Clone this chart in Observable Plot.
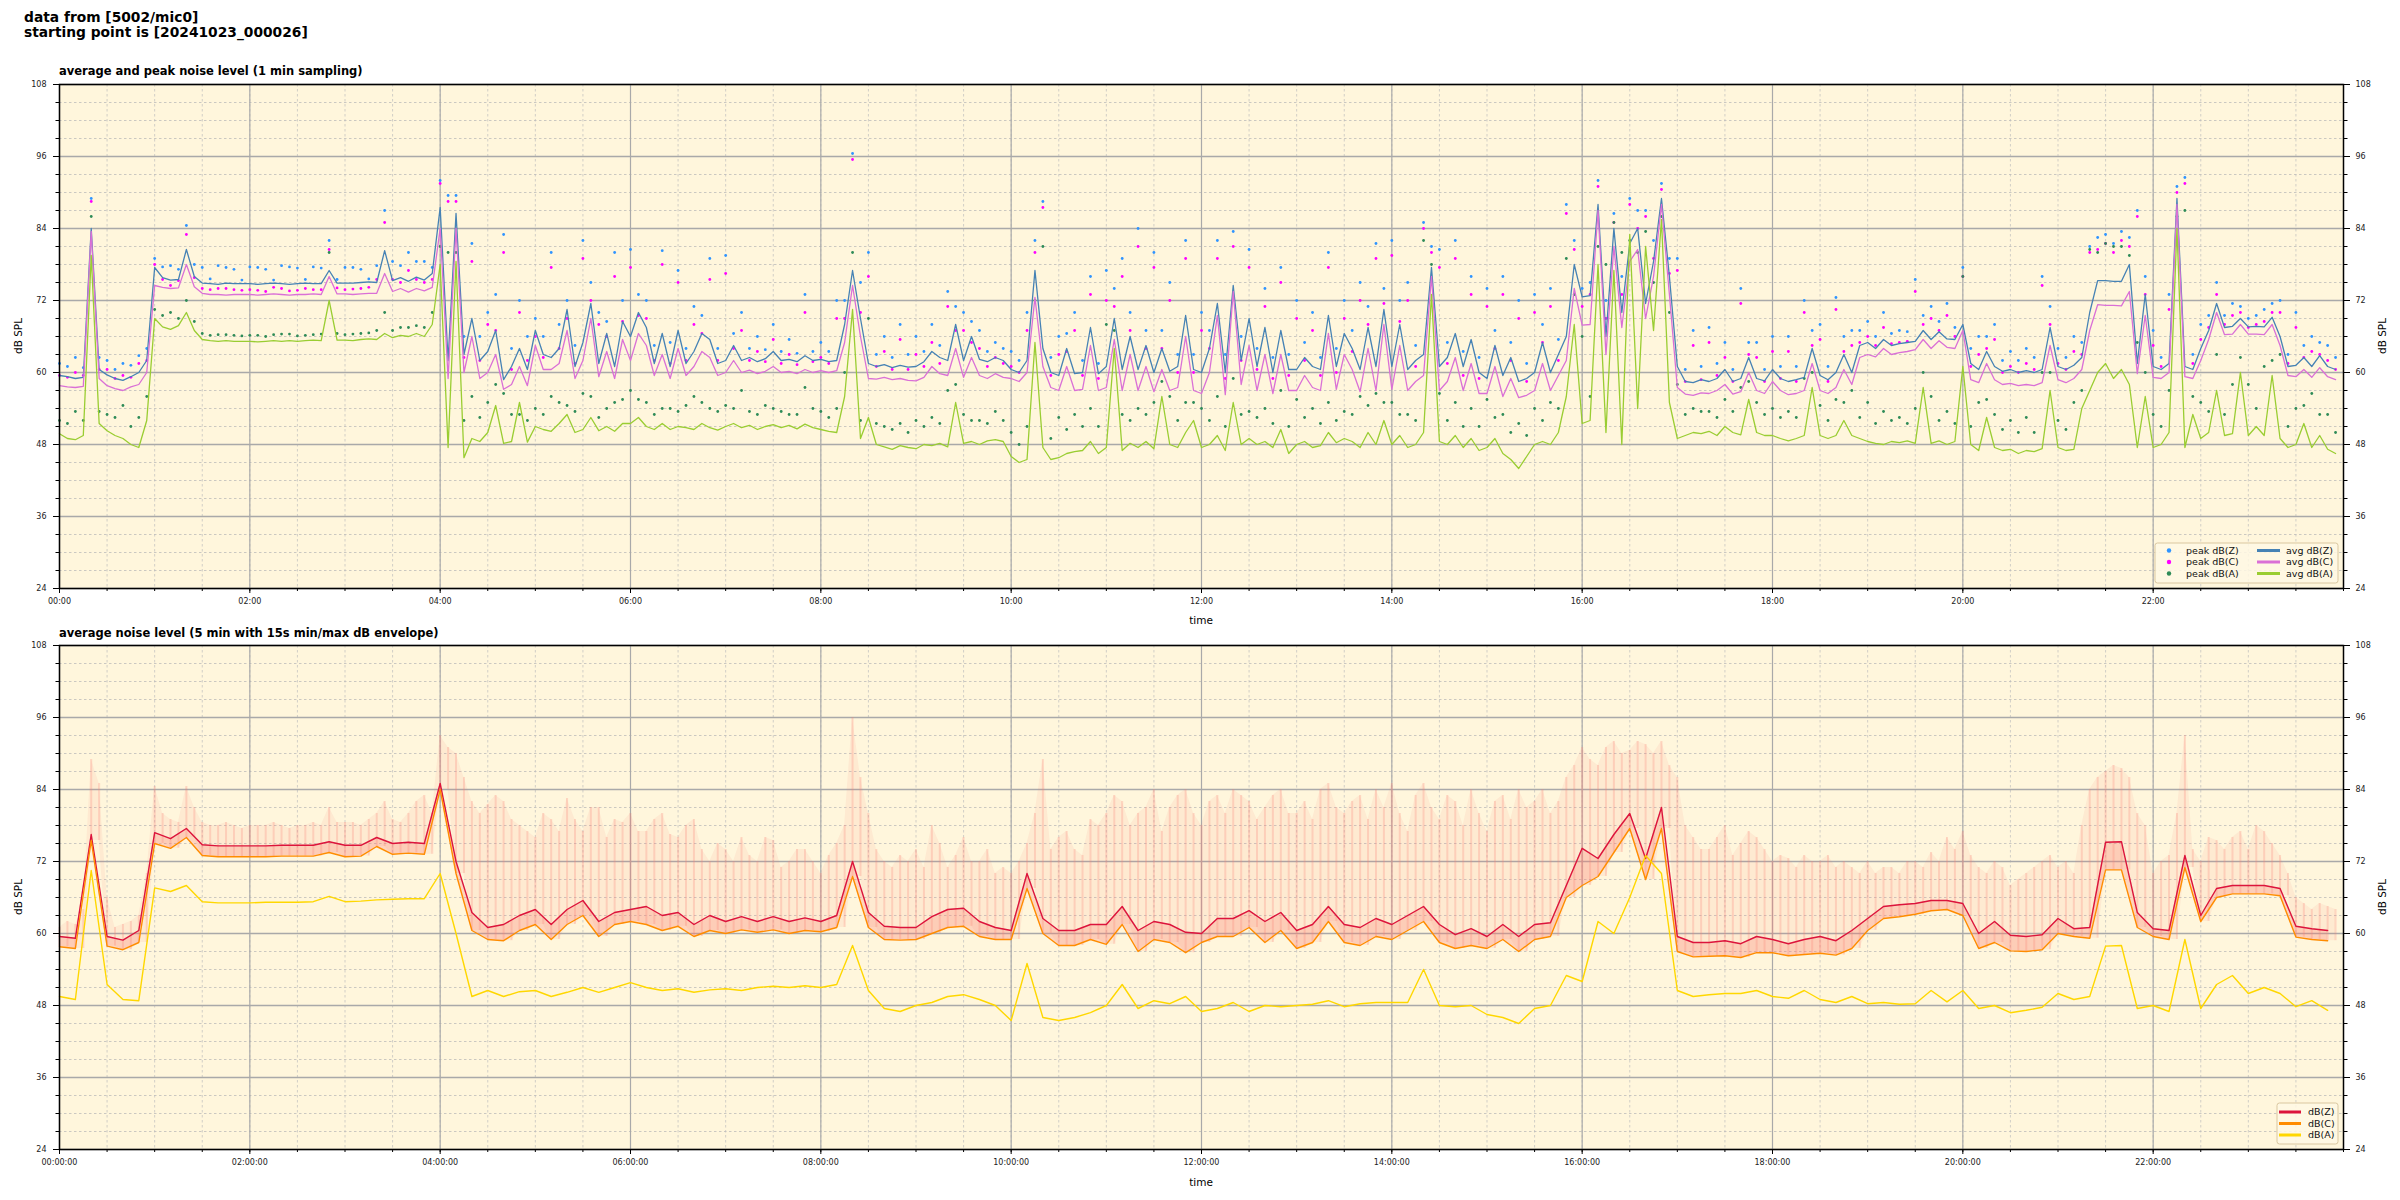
<!DOCTYPE html>
<html><head><meta charset="utf-8">
<script src="https://cdn.jsdelivr.net/npm/d3@7"></script>
<script src="https://cdn.jsdelivr.net/npm/@observablehq/plot@0.6"></script>
<style>
html,body{margin:0;padding:0;background:#fff;}
#root{position:relative;width:2400px;height:1200px;font-family:"DejaVu Sans",sans-serif;color:#000;overflow:hidden;}
.abs{position:absolute;white-space:nowrap;}
.title{left:24px;top:10px;font-weight:bold;font-size:13.8px;line-height:15px;}
.sub{left:59px;font-weight:bold;font-size:11.5px;line-height:13px;}
.axl{font-size:10.5px;line-height:12px;transform:translate(-50%,-50%);}
.ylab{font-size:10.5px;line-height:12px;transform:translate(-50%,-50%) rotate(-90deg);}
</style></head>
<body><div id="root"></div>
<script>
// ---------- DATA ----------
// time axis ticks
const majorHours = [0,2,4,6,8,10,12,14,16,18,20,22];
const minorHours = d3.range(0, 24.01, 0.5);
const majorDb = [24,36,48,60,72,84,96,108];
const minorDb = d3.range(24, 108.01, 3);

// top panel: 1 min sampling, read at 5 min steps (12 per hour), averages
const avgZ = [
59.5,59.3,59.0,59.2,84.0,60.5,59.6,59.0,58.7,59.3,60.0,62.0,
77.5,75.8,75.4,75.5,80.5,76.0,74.9,74.8,74.7,74.9,74.8,74.8,
74.8,74.7,74.8,74.9,74.8,74.7,74.8,74.9,74.8,74.8,77.0,74.9,
74.9,74.9,75.0,75.1,75.0,80.3,75.3,75.8,75.2,75.9,75.4,76.5,
87.5,62.0,86.5,63.0,69.0,62.0,63.5,67.0,58.8,61.0,64.0,60.5,
67.0,63.0,62.5,64.0,70.5,61.0,65.0,71.5,61.5,66.5,61.0,68.5,
66.0,70.0,67.5,61.5,66.5,61.0,67.0,61.5,63.5,66.5,65.5,61.5,
62.0,64.5,62.0,62.5,61.8,62.3,63.5,62.0,62.2,61.8,62.8,62.0,
62.2,61.8,62.0,68.0,77.0,69.0,61.5,61.0,61.3,60.8,61.2,60.9,
61.0,61.8,63.5,62.5,62.0,68.0,62.0,66.0,62.2,61.8,62.5,62.0,
60.5,60.0,62.0,77.0,64.0,60.0,59.5,64.0,59.8,60.0,67.5,59.8,
61.0,69.0,60.5,66.0,60.5,64.5,60.0,64.0,60.2,61.0,69.5,60.5,
60.0,64.0,71.5,60.0,74.5,62.0,69.0,61.0,67.5,60.0,67.0,60.5,
60.5,62.5,61.0,60.5,69.5,61.0,66.5,64.0,60.5,67.5,61.0,70.5,
61.0,68.0,60.5,62.0,63.0,77.5,61.0,62.5,66.5,61.0,65.5,60.0,
59.0,64.5,59.5,62.5,58.5,59.0,60.0,65.0,60.0,63.0,66.0,78.0,
72.6,72.8,88.0,66.0,84.0,70.0,81.5,84.0,71.5,78.5,89.0,76.0,
61.0,58.5,58.3,58.8,58.5,59.0,60.5,58.5,59.0,62.5,59.0,58.6,
60.5,59.0,58.5,58.8,59.2,64.0,59.5,58.8,60.0,63.0,60.0,64.5,
65.0,64.0,65.5,64.5,64.8,65.0,65.2,67.0,65.5,66.8,65.6,65.5,
68.0,61.5,60.5,63.5,61.0,60.2,60.5,60.0,60.3,60.0,60.5,67.5,
61.0,60.5,61.2,62.5,70.0,75.3,75.3,75.2,75.2,78.0,61.5,73.0,
61.0,60.5,61.5,89.0,61.0,60.5,64.0,67.0,71.5,67.5,67.7,69.0,
67.6,67.7,67.6,69.2,66.0,61.0,61.2,62.5,61.0,62.8,61.0,60.5];
const avgC = [
57.8,57.6,57.5,57.7,83.5,59.0,57.8,57.3,57.0,57.6,58.0,60.0,
74.5,74.2,74.0,74.1,78.0,74.3,73.2,73.0,73.0,72.9,73.0,73.0,
73.0,72.9,73.0,73.1,73.0,72.9,73.0,73.0,73.1,73.0,76.0,73.1,
73.1,73.0,73.1,73.2,73.2,76.5,73.5,74.0,73.4,74.0,73.6,74.2,
84.0,59.0,84.0,60.0,66.0,59.0,60.0,63.0,57.2,58.0,61.0,57.8,
64.5,60.5,60.5,61.5,67.0,59.0,62.0,69.0,59.3,63.5,59.0,65.5,
62.0,66.5,64.5,59.5,63.0,59.0,64.0,59.5,61.0,63.5,62.5,59.5,
60.0,62.0,60.0,60.4,59.8,60.2,61.0,60.0,60.2,59.8,60.5,60.0,
60.3,60.0,60.3,65.0,74.5,66.0,59.0,58.9,59.2,58.8,59.0,58.7,
58.6,59.2,61.0,59.8,59.5,64.0,59.2,62.5,59.5,59.0,59.8,59.2,
59.0,58.5,60.0,72.5,61.0,57.5,57.0,61.0,57.0,57.2,64.5,57.0,
57.5,65.5,57.0,63.0,57.0,61.0,56.8,60.5,57.0,57.5,66.0,57.0,
56.5,60.0,69.5,56.3,73.5,58.0,64.5,57.0,63.0,56.5,63.0,57.0,
57.0,59.5,57.5,57.0,66.5,57.2,63.0,60.5,56.8,64.0,57.0,68.0,
57.2,64.5,57.0,58.5,59.5,76.0,57.0,58.5,62.5,57.0,61.5,56.5,
56.5,61.0,56.0,59.0,55.8,56.2,57.0,61.5,57.0,59.5,62.0,74.0,
67.9,68.0,87.0,63.0,81.0,67.5,78.5,80.5,69.0,76.0,88.0,73.0,
57.5,56.4,56.2,56.6,56.5,57.0,58.0,56.4,56.8,60.0,57.0,56.5,
58.5,57.0,56.3,56.5,57.0,61.5,57.0,56.5,57.5,60.5,58.0,62.5,
63.0,62.6,64.0,63.0,63.3,63.5,63.8,65.5,64.0,65.3,64.2,64.0,
67.0,58.8,58.3,61.5,58.8,58.0,58.2,57.8,58.0,57.8,58.3,64.5,
58.8,58.3,59.0,60.5,67.0,71.3,71.2,71.2,71.1,73.5,59.8,69.5,
59.2,59.0,60.0,88.0,59.3,59.0,62.0,65.5,70.0,66.3,66.4,68.0,
66.4,66.4,66.3,68.0,64.5,59.5,59.3,60.5,59.2,60.8,59.3,58.8];
const avgA = [
49.8,49.0,48.8,49.5,79.5,51.5,50.3,49.5,49.0,48.0,47.5,52.0,
69.0,67.6,67.2,67.8,70.0,67.0,65.5,65.3,65.2,65.3,65.2,65.2,
65.2,65.1,65.2,65.3,65.2,65.3,65.2,65.3,65.4,65.3,72.0,65.4,
65.4,65.3,65.5,65.6,65.5,66.5,65.8,66.2,66.0,66.5,66.0,68.0,
78.0,47.5,78.5,45.8,49.0,48.5,50.0,54.5,48.2,48.5,55.0,48.4,
51.0,50.5,50.2,51.5,53.0,50.0,50.5,52.5,50.3,51.0,50.2,51.5,
51.5,52.5,51.0,50.5,51.5,50.5,51.0,50.8,50.5,51.5,50.8,50.4,
51.0,51.5,50.8,51.2,50.5,51.0,51.3,50.8,51.2,50.6,51.4,50.8,
50.5,50.2,50.0,56.0,70.5,49.0,52.5,48.0,47.6,47.2,47.8,47.5,
47.3,48.0,47.8,48.2,47.6,55.0,48.2,48.5,48.0,48.6,48.8,48.5,
46.0,45.0,45.5,65.0,47.5,45.5,45.8,46.5,46.8,47.0,48.5,46.5,
47.5,64.0,47.0,48.2,47.5,48.5,47.3,56.0,48.0,47.5,50.0,52.0,
47.5,48.0,49.5,47.0,55.0,48.0,49.0,48.0,48.5,47.5,50.5,46.5,
48.0,48.5,47.5,47.8,50.0,48.3,49.0,48.5,47.5,50.0,48.0,52.0,
48.0,49.5,47.5,48.0,50.0,73.0,48.5,48.0,49.5,47.5,49.0,47.0,
47.5,49.0,46.5,45.5,44.0,46.0,48.0,48.5,48.0,50.0,56.0,68.0,
51.5,52.0,78.0,50.0,77.0,48.0,83.0,54.0,81.0,67.0,85.5,55.0,
49.0,49.5,50.0,49.8,50.2,49.5,51.0,50.0,49.6,55.5,50.0,49.5,
49.5,49.0,48.6,49.0,49.5,57.5,49.5,49.0,49.5,52.0,49.5,49.0,
48.5,48.2,48.0,48.5,48.3,48.6,48.2,57.5,48.2,48.6,48.0,48.5,
61.0,48.0,47.0,52.5,47.5,47.0,47.2,46.5,47.0,46.8,47.3,57.0,
47.5,47.0,47.2,54.0,57.0,60.0,61.5,59.0,60.5,58.0,47.5,56.0,
47.5,48.0,50.0,84.0,47.5,53.0,49.0,50.0,57.0,49.5,49.8,60.0,
49.5,51.0,49.5,59.5,49.0,47.5,48.0,51.5,47.5,49.5,47.2,46.5];

// top panel peaks, 5 min steps
const peakZ = [
61.5,61.0,62.5,60.8,89.0,62.5,62.0,60.5,61.5,61.2,62.8,64.0,
79.0,77.6,77.8,77.2,84.5,78.0,77.5,75.6,77.8,77.5,77.2,75.4,
77.6,77.5,77.2,75.4,77.8,77.6,77.4,75.5,77.6,77.4,82.0,75.5,
77.5,77.5,77.2,75.6,77.8,87.0,78.5,77.8,80.0,78.5,78.5,77.5,
92.0,89.5,89.5,66.0,81.5,66.0,70.0,73.0,83.0,64.0,72.0,66.0,
69.0,66.0,80.0,68.0,72.0,64.5,82.0,75.0,70.0,68.5,80.0,72.0,
80.5,73.0,72.0,64.5,80.3,65.0,77.0,64.0,71.0,69.5,79.0,64.0,
79.5,66.5,70.0,64.0,66.0,63.8,68.0,63.5,65.5,63.2,73.0,63.5,
65.0,63.5,72.0,72.0,96.5,75.0,80.0,63.0,66.0,62.5,68.0,63.0,
66.0,63.5,68.0,64.5,73.5,71.0,70.0,68.5,67.0,63.5,65.0,64.0,
63.5,62.0,70.0,82.0,88.5,62.5,66.0,66.5,70.0,62.0,76.0,61.5,
77.0,74.0,79.0,70.0,84.0,67.0,80.0,67.0,75.0,63.0,82.0,63.0,
70.0,67.0,82.0,63.0,83.5,66.0,80.5,64.0,74.0,62.5,77.5,63.0,
72.0,65.0,70.0,62.5,80.0,64.0,72.0,67.0,75.0,71.0,81.5,74.0,
82.0,72.0,75.0,64.5,85.0,81.0,80.5,65.0,82.0,63.5,76.0,62.5,
74.0,67.0,76.0,65.0,72.0,61.5,73.0,68.0,74.0,65.5,88.0,82.0,
74.0,75.0,92.0,72.0,86.5,76.0,89.0,87.0,87.0,82.0,91.5,79.0,
79.0,60.5,67.0,61.0,67.5,61.5,65.0,60.5,74.0,65.0,65.0,60.5,
66.0,61.0,66.0,61.0,72.0,67.0,68.0,61.0,72.5,66.0,67.0,67.0,
68.5,66.0,70.0,66.5,67.0,66.8,75.5,69.5,71.0,68.5,71.5,67.5,
77.5,64.0,66.0,66.0,68.0,62.0,63.5,62.0,64.0,62.5,76.0,71.0,
64.0,62.5,66.0,65.0,81.0,82.5,83.0,81.5,83.5,82.5,87.0,76.0,
67.0,62.5,73.0,91.0,92.5,63.0,68.0,69.5,75.0,69.5,71.5,71.0,
69.0,69.5,70.5,71.5,72.0,63.0,70.0,64.5,66.0,65.0,64.5,62.5];
const peakC = [
59.5,59.2,60.0,59.5,88.5,60.5,60.5,59.0,59.5,59.2,61.5,62.0,
78.0,75.5,74.5,75.3,83.0,75.8,74.0,73.8,74.0,74.0,73.8,73.7,
73.8,73.7,73.5,74.2,74.0,73.6,73.7,74.0,73.8,73.8,80.5,74.1,
73.8,73.9,74.0,74.2,75.5,85.0,75.5,75.0,77.0,75.5,75.0,75.5,
91.5,88.5,88.5,62.5,78.5,62.0,68.0,67.0,80.0,60.5,70.0,62.0,
66.0,62.5,77.5,64.0,69.0,61.5,79.0,72.0,68.0,66.0,76.0,68.5,
77.5,69.5,69.0,62.0,78.0,61.5,75.0,62.0,68.0,66.5,75.5,62.0,
76.5,64.0,67.0,62.0,63.5,61.8,65.5,61.5,63.0,61.3,70.0,61.8,
62.5,61.5,69.0,69.0,95.5,70.0,76.0,61.0,63.5,60.5,65.5,60.5,
63.0,61.0,65.0,61.5,71.0,67.0,67.0,65.0,64.0,61.0,62.5,61.5,
61.0,60.0,67.0,80.0,87.5,59.5,63.0,63.5,67.0,59.5,73.0,59.0,
72.0,71.0,76.0,67.0,81.0,64.0,77.5,64.0,72.0,60.0,79.0,60.0,
67.0,64.0,79.0,59.0,81.0,62.0,77.5,60.5,71.0,59.0,75.0,59.5,
69.0,62.0,67.0,59.5,77.5,60.0,69.0,63.5,72.0,68.0,79.0,71.5,
79.5,68.5,72.0,61.0,84.0,80.0,77.5,61.5,79.0,59.5,73.0,59.0,
71.0,64.0,73.0,62.0,69.0,58.5,70.0,65.0,71.0,62.0,86.5,80.5,
71.0,73.0,91.0,69.0,85.0,73.0,88.0,84.0,86.0,79.0,90.5,76.5,
77.0,58.5,64.5,58.8,65.0,59.5,62.5,58.5,71.5,63.0,62.5,58.5,
63.5,59.0,63.5,58.5,70.0,64.5,65.5,58.5,70.5,63.5,64.5,65.0,
66.0,64.5,67.5,64.8,65.0,65.2,73.5,68.0,69.0,67.0,69.5,66.0,
76.0,61.0,63.0,64.0,65.5,60.0,61.0,60.0,61.5,60.5,74.5,68.0,
61.5,60.5,63.5,63.0,80.0,80.5,81.5,80.0,82.0,81.0,86.0,73.0,
64.5,61.0,70.5,90.0,91.5,61.5,65.5,67.5,73.0,68.0,69.5,70.0,
67.5,68.0,68.5,70.0,70.0,61.5,67.5,62.5,63.5,63.0,62.0,60.5];
const peakA = [
52.0,51.5,53.5,52.0,86.0,53.5,53.0,52.5,54.5,51.0,52.5,56.0,
70.5,69.5,70.0,69.0,72.0,68.5,66.5,66.2,66.3,66.3,66.2,66.1,
66.2,66.2,66.0,66.3,66.4,66.4,66.1,66.2,66.3,66.4,80.0,66.5,
66.3,66.4,66.5,66.6,67.0,70.0,67.0,67.5,67.5,67.8,67.5,70.0,
81.0,80.0,80.0,52.0,56.0,52.5,55.0,58.0,56.5,53.0,53.0,52.0,
54.0,53.0,56.0,55.0,54.5,53.5,56.5,56.0,52.5,54.0,55.0,55.5,
57.0,55.5,55.0,53.0,54.0,54.0,53.5,54.5,56.0,55.0,54.0,53.5,
54.5,54.0,57.0,53.5,53.0,54.5,54.0,53.5,53.0,53.0,57.5,54.0,
53.5,52.5,54.0,60.0,80.0,52.0,69.0,51.5,51.0,50.5,51.5,50.0,
52.0,51.0,52.5,51.5,57.0,58.0,53.0,52.0,52.0,51.5,53.5,52.0,
50.0,48.0,51.0,72.0,81.0,49.0,52.5,50.5,53.0,51.0,54.0,51.0,
68.0,67.0,53.0,52.0,54.0,53.0,55.0,58.5,56.0,52.0,55.0,55.0,
54.0,52.0,56.0,51.0,59.0,53.0,53.5,52.5,54.0,51.5,57.0,51.0,
55.5,52.5,54.0,51.5,55.0,52.0,53.5,53.0,56.0,54.5,56.5,55.0,
55.0,53.0,53.0,52.0,82.0,78.0,56.5,52.0,55.0,51.0,54.0,51.0,
55.5,52.5,53.0,50.0,51.5,49.5,54.0,52.0,55.0,54.0,79.0,73.0,
66.0,56.0,81.0,78.0,85.0,80.0,82.0,80.0,83.5,75.0,86.0,70.0,
58.0,53.0,54.0,53.5,53.5,52.5,55.5,53.5,57.5,58.5,55.0,53.0,
54.0,52.5,53.5,52.5,59.0,60.0,54.5,52.0,55.5,55.0,57.0,52.5,
55.0,51.5,53.5,52.0,52.5,51.5,54.0,60.0,56.0,52.0,53.5,51.5,
76.0,51.0,55.0,55.5,53.0,50.5,52.0,50.0,52.5,50.0,60.0,60.0,
52.0,50.5,55.0,57.0,80.5,80.0,81.5,81.0,81.0,79.5,65.0,60.0,
53.0,51.0,57.0,86.0,87.0,56.0,55.0,53.5,63.0,53.0,58.0,62.5,
58.0,54.0,61.0,62.0,63.0,51.0,54.0,54.5,56.5,53.0,53.0,50.0];

// bottom panel: 5 min averages read at 10 min steps (6 per hour)
const lvlZ = [
59.5,59.2,76.5,59.5,58.9,60.5, 76.8,75.8,77.5,74.8,74.6,74.6,
74.6,74.6,74.7,74.7,74.7,75.3, 74.7,74.7,76.0,75.0,75.2,75.0,
85.0,72.0,63.5,61.0,61.5,63.0, 64.0,61.5,64.0,65.5,62.0,63.5,
64.0,64.5,63.0,63.5,61.5,63.0, 62.0,62.8,62.0,62.8,62.0,62.6,
62.0,63.0,72.0,63.5,61.2,61.0, 61.0,62.8,64.0,64.2,62.0,61.0,
60.5,70.0,62.5,60.5,60.5,61.5, 61.5,64.5,60.5,62.0,61.5,60.2,
60.0,62.5,62.5,63.8,62.0,63.5, 60.5,61.5,64.5,61.5,61.0,62.5,
61.5,63.0,64.5,61.5,59.8,60.8, 59.5,61.5,59.5,61.5,61.8,68.0,
74.2,72.5,76.5,80.0,72.5,81.0, 59.5,58.5,58.5,58.8,58.3,59.5,
59.0,58.3,59.0,59.5,58.8,60.5, 62.5,64.5,64.8,65.0,65.5,65.5,
65.0,60.0,62.0,59.7,59.5,59.8, 62.5,60.8,61.0,75.2,75.3,63.5,
60.8,60.5,73.0,63.0,67.5,68.0, 68.0,68.0,67.5,61.2,60.8,60.5];
const lvlC = [
57.8,57.5,75.5,57.9,57.3,58.5, 75.0,74.2,76.0,73.0,72.8,72.8,
72.8,72.8,72.9,72.9,72.9,73.5, 72.8,72.9,74.5,73.2,73.4,73.2,
84.0,70.0,60.5,59.0,58.8,60.5, 61.5,59.0,61.5,63.0,59.5,61.5,
62.0,61.5,60.5,61.2,59.5,60.5, 60.0,60.6,60.2,60.6,60.0,60.5,
60.3,61.0,69.5,61.0,59.0,58.9, 59.0,60.0,61.0,61.2,59.5,59.0,
59.0,67.5,60.0,58.0,58.0,59.0, 58.2,61.5,57.0,59.0,58.5,56.8,
58.5,59.5,59.5,61.0,58.5,60.5, 57.5,58.5,62.0,58.5,58.0,59.5,
59.0,60.5,62.0,58.5,57.5,58.0, 57.5,59.0,57.0,59.0,59.5,66.0,
68.0,69.5,73.5,77.5,69.0,77.5, 57.0,56.1,56.2,56.3,56.0,56.8,
56.8,56.3,56.5,56.7,56.4,57.5, 60.5,62.5,62.8,63.2,63.8,64.0,
63.0,57.5,58.5,57.1,57.0,57.3, 60.0,59.5,59.2,70.6,70.6,61.0,
59.5,59.0,71.0,62.0,66.0,66.6, 66.6,66.6,66.3,59.4,59.0,58.8];
const lvlA = [
49.5,49.0,70.5,51.5,49.0,48.8, 67.6,67.0,68.0,65.3,65.1,65.1,
65.1,65.2,65.2,65.2,65.3,66.2, 65.3,65.4,65.6,65.7,65.8,65.8,
70.0,60.0,49.5,50.5,49.5,50.3, 50.5,49.5,50.2,51.0,50.2,51.0,
51.8,51.0,50.5,50.8,50.2,50.6, 50.8,50.5,51.0,51.2,51.0,51.3,
51.0,51.5,58.0,50.5,47.5,47.0, 48.0,48.5,49.5,49.8,49.0,48.0,
45.5,55.0,46.0,45.5,46.0,46.8, 48.0,51.5,47.5,48.8,48.3,49.5,
47.0,47.5,48.5,47.0,48.0,47.8, 48.0,48.2,48.8,47.8,48.3,48.5,
48.5,48.5,54.0,48.0,47.8,48.0, 46.5,46.0,45.0,47.5,48.0,53.0,
52.0,62.0,60.0,66.0,73.0,70.0, 50.5,49.5,49.8,50.0,50.0,50.5,
49.5,49.2,50.5,49.0,48.5,49.5, 48.3,48.5,48.2,48.3,50.5,48.6,
50.5,47.5,48.0,46.8,47.2,47.7, 50.0,49.0,49.5,57.9,58.0,47.5,
48.0,47.0,59.0,47.5,51.5,53.0, 50.0,51.0,50.0,47.8,48.8,47.2];
// 15 s max envelope spikes: at hh:00,:10,... (envMax) and hh:05,:15,... (envMaxB)
const envMax = [
61.0,61.5,89.0,66.0,61.5,63.0, 84.5,79.0,84.5,78.5,78.0,78.0,
78.0,78.0,78.0,78.0,78.5,81.0, 78.5,78.0,80.0,79.0,80.0,83.0,
93.0,90.0,82.0,81.5,82.0,78.0, 76.0,79.0,82.5,77.0,81.0,79.0,
80.0,77.0,80.0,76.0,79.0,72.0, 74.0,76.0,72.0,75.5,72.0,74.0,
70.0,75.0,96.0,80.0,72.0,73.0, 74.0,78.0,71.0,76.0,72.0,70.0,
70.0,75.0,89.0,76.0,74.0,79.0, 80.0,82.0,80.0,84.0,81.0,84.0,
78.0,83.0,84.0,82.0,81.0,84.0, 80.0,79.0,85.0,80.0,83.0,84.0,
85.0,77.0,85.0,79.0,82.0,84.0, 77.0,83.0,84.0,82.0,80.0,86.0,
91.0,88.0,92.0,90.5,91.5,92.0, 86.0,76.0,74.0,78.0,75.0,76.0,
72.0,72.5,73.0,72.0,71.0,71.0, 72.0,71.0,70.0,72.0,73.5,76.0,
77.0,71.0,72.0,68.0,70.0,72.0, 71.0,70.0,84.0,87.0,87.5,80.0,
70.0,73.0,93.0,72.0,75.5,76.0, 74.0,77.0,73.0,66.0,64.0,64.5];
const envMaxB = [
62.0,64.0,85.0,61.0,62.0,70.0, 80.0,78.5,81.0,78.0,78.5,77.5,
78.0,78.5,77.5,78.0,78.0,78.5, 78.5,79.0,82.0,78.5,82.0,80.0,
91.0,86.0,80.0,83.0,79.0,77.0, 80.0,77.0,79.0,81.0,76.0,78.5,
77.0,79.0,76.5,78.0,74.0,75.0, 72.0,73.0,76.0,71.0,74.0,72.0,
73.0,78.0,86.0,74.0,71.0,72.0, 71.0,75.0,73.0,72.0,74.0,71.0,
72.0,80.0,74.0,77.0,73.0,78.0, 83.0,78.0,81.0,77.0,83.0,80.0,
82.0,80.0,83.0,79.0,83.0,80.0, 82.0,84.0,81.0,82.0,79.0,81.0,
80.0,83.0,81.0,83.0,78.0,80.0, 82.0,79.0,81.0,84.0,82.0,88.0,
89.0,91.0,90.0,92.0,90.0,88.0, 78.0,74.0,76.0,73.0,77.0,74.0,
73.0,71.0,72.0,73.0,72.0,70.0, 70.0,71.0,72.0,71.0,72.0,74.0,
73.0,70.0,71.0,69.0,71.0,73.0, 72.0,78.0,86.0,88.0,86.0,78.0,
72.0,80.0,74.0,76.0,74.0,77.0, 78.0,75.0,70.0,65.0,65.0,64.0];

// ---------- STYLE ----------
const BG = "#fff6dc";
const col = {pZ:"#2f94ff", pC:"#ff00ff", pA:"#2e8b57", aZ:"#4682b4", aC:"#da70d6", aA:"#9acd32",
             lZ:"#dc143c", lC:"#ff8c00", lA:"#ffd700", env:"#fa8072"};
const ML = 59, MR = 57;
const root = document.getElementById("root");
const hh = h => String(h).padStart(2, "0");

function scaffold() {
  return [
    Plot.frame({fill: BG, stroke: null}),
    Plot.gridY({ticks: minorDb, stroke: "#b5b5b5", strokeOpacity: 1, strokeWidth: 0.7, strokeDasharray: "2.5,2.5"}),
    Plot.gridX({ticks: minorHours, stroke: "#bdbdbd", strokeOpacity: 1, strokeWidth: 0.7, strokeDasharray: "2.5,2.5"}),
    Plot.gridY({ticks: majorDb, stroke: "#a9a9a9", strokeOpacity: 1, strokeWidth: 1.5}),
    Plot.gridX({ticks: majorHours, stroke: "#a9a9a9", strokeOpacity: 1, strokeWidth: 1.2})
  ];
}
function axes(fmt) {
  return [
    Plot.axisX({ticks: majorHours, tickFormat: fmt, tickSize: 5, tickPadding: 5, label: null, stroke: "#000"}),
    Plot.axisX({ticks: minorHours, tickFormat: () => "", tickSize: 3, label: null, stroke: "#000"}),
    Plot.axisY({ticks: majorDb, anchor: "left", tickSize: 6, tickPadding: 7, label: null, stroke: "#000"}),
    Plot.axisY({ticks: minorDb, anchor: "left", tickSize: 3.5, tickFormat: () => "", label: null, stroke: "#000"}),
    Plot.axisY({ticks: majorDb, anchor: "right", tickSize: 6, tickPadding: 6, label: null, stroke: "#000"}),
    Plot.axisY({ticks: minorDb, anchor: "right", tickSize: 3.5, tickFormat: () => "", label: null, stroke: "#000"}),
    Plot.frame({stroke: "#000", strokeWidth: 1.5})
  ];
}
function place(svg, top) {
  svg.style.position = "absolute";
  svg.style.left = "0px";
  svg.style.top = top + "px";
  root.appendChild(svg);
}
const baseStyle = {background: "transparent", fontFamily: "DejaVu Sans", fontSize: "8px", color: "#222", overflow: "visible"};

// ---------- TOP PANEL ----------
const x5 = (d, i) => i / 12;
const x10 = (d, i) => i / 6;
const x10b = (d, i) => (i + 0.5) / 6;
const topPlot = Plot.plot({
  width: 2400, height: 615, marginLeft: ML, marginRight: MR, marginTop: 84, marginBottom: 27,
  style: baseStyle,
  x: {type: "linear", domain: [0, 24]},
  y: {type: "linear", domain: [24, 108]},
  marks: [
    ...scaffold(),
    Plot.dot(peakZ, {x: x5, y: d => d, r: 1.4, fill: col.pZ, stroke: null}),
    Plot.dot(peakC, {x: x5, y: d => d, r: 1.4, fill: col.pC, stroke: null}),
    Plot.dot(peakA, {x: x5, y: d => d, r: 1.4, fill: col.pA, stroke: null}),
    Plot.line(avgZ, {x: x5, y: d => d, stroke: col.aZ, strokeWidth: 1.3}),
    Plot.line(avgC, {x: x5, y: d => d, stroke: col.aC, strokeWidth: 1.3}),
    Plot.line(avgA, {x: x5, y: d => d, stroke: col.aA, strokeWidth: 1.3}),
    ...axes(h => `${hh(h)}:00`)
  ]
});
place(topPlot, 0);

// ---------- BOTTOM PANEL ----------
// envelope outline: the two spike series interleaved on the 5 min grid
const envAll = envMax.flatMap((v, i) => [
  {t: i / 6, lo: lvlC[i], hi: v},
  {t: (i + 0.5) / 6, lo: lvlC[i], hi: envMaxB[i]}
]);
const botPlot = Plot.plot({
  width: 2400, height: 539, marginLeft: ML, marginRight: MR, marginTop: 5, marginBottom: 30,
  style: baseStyle,
  x: {type: "linear", domain: [0, 24]},
  y: {type: "linear", domain: [24, 108]},
  marks: [
    ...scaffold(),
    Plot.areaY(envAll, {x: "t", y1: "lo", y2: "hi", fill: col.env, fillOpacity: 0.1}),
    Plot.areaY(lvlZ, {x: x10, y1: (d, i) => lvlC[i], y2: d => d, fill: col.env, fillOpacity: 0.28}),
    Plot.ruleX(envAll, {x: "t", y1: "lo", y2: "hi", stroke: col.env, strokeOpacity: 0.26, strokeWidth: 2}),
    Plot.line(lvlZ, {x: x10, y: d => d, stroke: col.lZ, strokeWidth: 1.4}),
    Plot.line(lvlC, {x: x10, y: d => d, stroke: col.lC, strokeWidth: 1.4}),
    Plot.line(lvlA, {x: x10, y: d => d, stroke: col.lA, strokeWidth: 1.4}),
    ...axes(h => `${hh(h)}:00:00`)
  ]
});
place(botPlot, 640);

// ---------- TEXT ----------
function addDiv(cls, html, css) {
  const d = document.createElement("div");
  d.className = "abs " + cls;
  d.innerHTML = html;
  Object.assign(d.style, css || {});
  root.appendChild(d);
  return d;
}
addDiv("title", "data from [5002/mic0]<br>starting point is [20241023_000026]");
addDiv("sub", "average and peak noise level (1 min sampling)", {top: "64.5px"});
addDiv("sub", "average noise level (5 min with 15s min/max dB envelope)", {top: "626.5px"});
addDiv("axl", "time", {left: "1201px", top: "620px"});
addDiv("axl", "time", {left: "1201px", top: "1182px"});
addDiv("ylab", "dB SPL", {left: "18px", top: "336px"});
addDiv("ylab", "dB SPL", {left: "2382px", top: "336px"});
addDiv("ylab", "dB SPL", {left: "18px", top: "897px"});
addDiv("ylab", "dB SPL", {left: "2382px", top: "897px"});

// ---------- LEGENDS ----------
const ov = d3.select(root).append("svg").attr("width", 2400).attr("height", 1200)
  .style("position", "absolute").style("left", 0).style("top", 0)
  .style("font-family", "DejaVu Sans").style("font-size", "9.5px");
function legendBox(x, y, w, h) {
  ov.append("rect").attr("x", x).attr("y", y).attr("width", w).attr("height", h).attr("rx", 2.5)
    .attr("fill", "#fff8e4").attr("fill-opacity", 0.85).attr("stroke", "#dac7a0").attr("stroke-width", 1);
}
function legendText(x, y, t) {
  ov.append("text").attr("x", x).attr("y", y).attr("dy", "0.35em").attr("fill", "#111").text(t);
}
legendBox(2155, 543, 183, 40);
const rowsTop = [550.5, 562, 573.5];
[["peak dB(Z)", col.pZ], ["peak dB(C)", col.pC], ["peak dB(A)", col.pA]].forEach(([t, c], k) => {
  ov.append("circle").attr("cx", 2169).attr("cy", rowsTop[k]).attr("r", 2.2).attr("fill", c);
  legendText(2186, rowsTop[k], t);
});
[["avg dB(Z)", col.aZ], ["avg dB(C)", col.aC], ["avg dB(A)", col.aA]].forEach(([t, c], k) => {
  ov.append("line").attr("x1", 2257).attr("x2", 2280).attr("y1", rowsTop[k]).attr("y2", rowsTop[k])
    .attr("stroke", c).attr("stroke-width", 3);
  legendText(2286, rowsTop[k], t);
});
legendBox(2277, 1103, 61, 41);
const rowsBot = [1112, 1123.5, 1135];
[["dB(Z)", col.lZ], ["dB(C)", col.lC], ["dB(A)", col.lA]].forEach(([t, c], k) => {
  ov.append("line").attr("x1", 2279).attr("x2", 2301).attr("y1", rowsBot[k]).attr("y2", rowsBot[k])
    .attr("stroke", c).attr("stroke-width", 3);
  legendText(2308, rowsBot[k], t);
});
</script></body></html>
